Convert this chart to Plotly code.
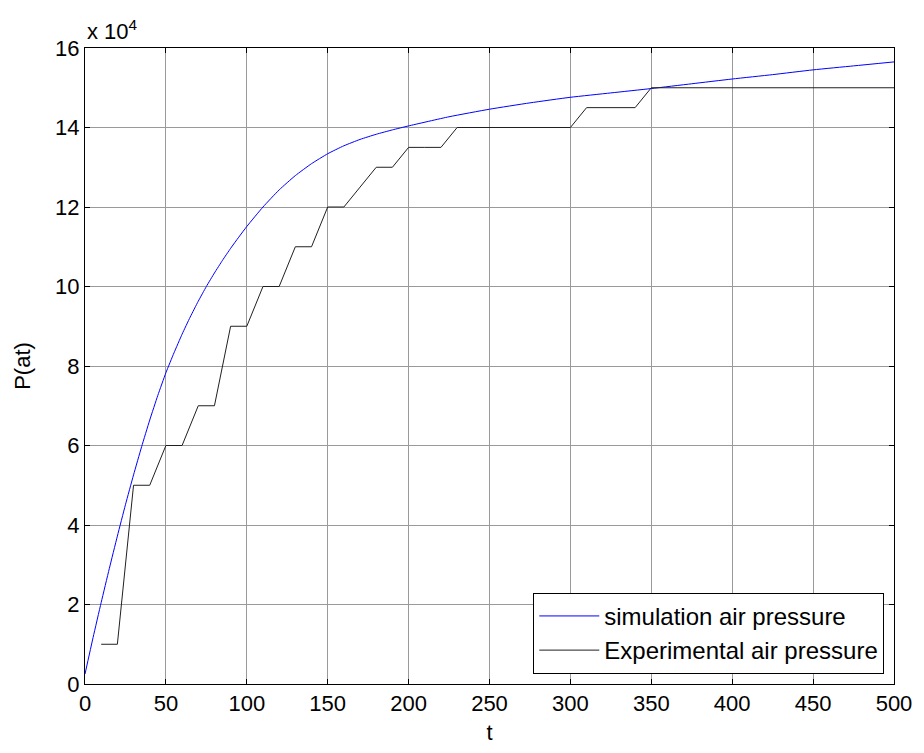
import plotly.graph_objects as go

# simulation air pressure
t_sim = [0, 5, 10, 15, 20, 25, 30, 35, 40, 45, 50, 55, 60, 65, 70, 75, 80, 85, 90, 95, 100,
         110, 120, 130, 140, 150, 160, 170, 180, 190, 200, 225, 250, 275, 300, 325, 350, 375,
         400, 425, 450, 475, 500]
p_sim = [2500, 11700, 20500, 29000, 37200, 45100, 52600, 59700, 66400, 72600, 78300, 83300,
         88000, 92300, 96300, 100000, 103400, 106600, 109600, 112400, 115100,
         120000, 124300, 127900, 130900, 133400, 135400, 137000, 138300, 139400, 140400,
         142700, 144600, 146200, 147600, 148700, 149800, 151000, 152200, 153300, 154500,
         155500, 156500]

# experimental air pressure
t_exp = [10, 20, 30, 40, 50, 60, 70, 80, 90, 100, 110, 120, 130, 140, 150, 160, 170, 180, 190,
         200, 210, 220, 230, 240, 250, 260, 270, 280, 290, 300, 310, 320, 330, 340, 350, 360,
         370, 380, 390, 400, 410, 420, 430, 440, 450, 460, 470, 480, 490, 500]
p_exp = [10000, 10000, 50000, 50000, 60000, 60000, 70000, 70000, 90000, 90000, 100000, 100000,
         110000, 110000, 120000, 120000, 125000, 130000, 130000, 135000, 135000, 135000, 140000,
         140000, 140000, 140000, 140000, 140000, 140000, 140000, 145000, 145000, 145000, 145000,
         150000, 150000, 150000, 150000, 150000, 150000, 150000, 150000, 150000, 150000, 150000,
         150000, 150000, 150000, 150000, 150000]

x_ticks = [0, 50, 100, 150, 200, 250, 300, 350, 400, 450, 500]
y_ticks = [0, 20000, 40000, 60000, 80000, 100000, 120000, 140000, 160000]
y_ticktext = ["0", "2", "4", "6", "8", "10", "12", "14", "16"]

FONT = "Liberation Sans, Arial, sans-serif"

fig = go.Figure()
fig.add_trace(go.Scatter(x=t_sim, y=p_sim, mode="lines", name="simulation air pressure",
                         line=dict(color="#0000FF", width=1, shape="spline", smoothing=0.5)))
fig.add_trace(go.Scatter(x=t_exp, y=p_exp, mode="lines", name="Experimental air pressure",
                         line=dict(color="#202020", width=1)))

axis_common = dict(showline=True, linecolor="black", linewidth=1, mirror="ticks",
                   ticks="inside", ticklen=5, tickcolor="black",
                   showgrid=True, gridcolor="#9a9a9a", gridwidth=1, zeroline=False,
                   tickfont=dict(family=FONT, size=22, color="black"))

fig.update_layout(
    width=924, height=753,
    margin=dict(l=85, r=26, t=48, b=67),
    paper_bgcolor="white", plot_bgcolor="white",
    font=dict(family=FONT, size=22, color="black"),
    xaxis=dict(range=[0, 500], tickvals=x_ticks,
               title=dict(text="t", font=dict(family=FONT, size=22), standoff=9),
               **axis_common),
    yaxis=dict(range=[0, 160000], tickvals=y_ticks, ticktext=y_ticktext,
               title=dict(text="P(at)", font=dict(family=FONT, size=22), standoff=18),
               **axis_common),
    legend=dict(x=0.988, y=0.016, xanchor="right", yanchor="bottom",
                bgcolor="white", bordercolor="black", borderwidth=1,
                font=dict(family=FONT, size=24, color="black"),
                itemwidth=60, tracegroupgap=0),
    showlegend=True,
)
fig.add_annotation(xref="paper", yref="paper", x=0, y=1, xanchor="left", yanchor="bottom",
                   text="x 10<sup>4</sup>", showarrow=False, yshift=2,
                   font=dict(family=FONT, size=22, color="black"))

fig.write_html("out.html")
